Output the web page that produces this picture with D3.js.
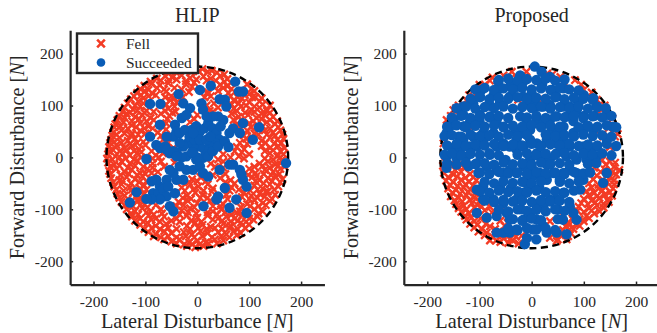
<!DOCTYPE html>
<html>
<head>
<meta charset="utf-8">
<script src="https://cdn.jsdelivr.net/npm/d3@7"></script>
<style>
  body { margin: 0; background: #fff; }
  svg text, svg tspan { font-family: "Liberation Serif", "Times New Roman", serif; fill: #262626; }
</style>
</head>
<body>
<svg id="chart" width="657" height="333" font-family="Liberation Serif"></svg>
<script>
// tick values and boundary radius
const tickVals = [-200, -100, 0, 100, 200];
const boundary = [175];
const titles = ["HLIP", "Proposed"];
const legendLabels = ["Fell", "Succeeded"];

// HLIP: pushes that fell [lateral, forward]
const hlipFell = [
  [-35,168],[-20,171],[-5,172],[10,170],[28,167],
  [-55,162],[-42,165],[-12,164],[3,166],[20,165],[38,163],[52,160],
  [-78,152],[-62,157],[-48,154],[-30,158],[-14,153],[12,156],[26,152],[44,157],[58,151],
  [-90,146],[-70,148],[-55,149],[-40,150],[-22,147],[-2,150],[18,148],[36,148],[52,146],[64,144],
  [-102,138],[-88,142],[-72,139],[-56,143],[-22,141],[-6,144],[44,140],[58,137],[96,141],[104,132],
  [-110,132],[-94,130],[-78,134],[-64,131],[-44,134],[-30,131],[-10,136],[20,126],[50,134],[66,132],[110,128],
  [-116,124],[-101,128],[-86,123],[-60,127],[-50,118],[-16,126],[14,116],[40,128],[60,124],[100,122],[112,116],
  [-122,118],[-108,120],[-94,118],[-80,120],[-62,116],[-44,114],[-28,116],[20,122],[64,118],[78,116],[92,120],[106,116],[124,114],
  [-128,112],[-114,108],[-104,114],[-52,110],[-40,106],[26,118],[32,104],[70,110],[86,114],[100,106],[120,108],
  [-134,104],[-120,100],[-104,104],[-60,102],[-44,98],[18,100],[66,102],[80,104],[94,100],[110,98],[126,102],[140,100],
  [-140,96],[-124,92],[-110,98],[-98,90],[-56,94],[-42,88],[24,90],[40,96],[70,94],[84,98],[104,92],[120,96],[134,90],
  [-144,88],[-130,86],[-116,90],[-102,86],[-84,88],[-62,90],[-48,86],[30,88],[76,90],[92,86],[110,88],[124,84],[140,86],
  [-150,80],[-136,84],[-120,78],[-106,82],[-90,76],[-70,84],[-54,80],[0,82],[66,84],[80,78],[98,82],[114,76],[130,82],[146,78],
  [-154,72],[-140,76],[-126,70],[-112,74],[-98,70],[-84,72],[-58,74],[-6,74],[70,72],[84,72],[108,70],[124,74],[140,72],[154,70],
  [-158,64],[-142,68],[-126,62],[-110,66],[-94,60],[-60,66],[-14,68],[76,62],[100,66],[116,62],[134,68],[150,64],
  [-160,58],[-148,60],[-134,56],[-118,58],[-102,56],[-86,56],[-66,58],[82,58],[104,58],[126,60],[140,56],[156,58],
  [-162,48],[-146,52],[-126,46],[-110,52],[-76,48],[-60,54],[96,52],[110,46],[130,52],[146,48],[160,52],
  [-164,42],[-156,44],[-140,46],[-128,42],[-114,44],[-100,46],[-70,42],[90,42],[104,40],[118,44],[134,44],[150,42],[164,44],
  [-166,34],[-150,38],[-134,32],[-120,36],[-104,30],[-66,34],[94,36],[124,32],[140,38],[154,34],[166,36],
  [-168,28],[-160,30],[-146,28],[-130,26],[-116,28],[-100,24],[-56,28],[82,28],[96,26],[132,28],[148,26],[162,28],
  [-170,20],[-156,24],[-140,18],[-126,22],[-112,16],[-46,18],[76,20],[90,16],[124,22],[140,18],[156,22],[168,18],
  [-170,12],[-162,14],[-150,12],[-136,14],[-122,12],[-108,10],[-88,12],[-72,12],[72,12],[86,10],[130,12],[146,14],[160,12],
  [-172,6],[-158,2],[-144,8],[-130,4],[-116,8],[-80,4],[-66,8],[50,6],[80,2],[100,6],[140,8],[154,2],[166,6],
  [-174,-2],[-164,-4],[-150,0],[-138,-2],[-122,-4],[-108,0],[-86,-2],[-74,0],[40,-4],[64,0],[90,-2],[130,-2],[146,-4],[160,0],
  [-172,-10],[-160,-14],[-146,-8],[-130,-12],[-116,-6],[-86,-12],[-70,-8],[-44,-10],[26,-12],[50,-8],[120,-12],[136,-8],[150,-14],[162,-6],
  [-168,-18],[-150,-16],[-134,-20],[-120,-16],[-104,-18],[-86,-20],[-64,-18],[34,-18],[50,-20],[110,-18],[126,-16],[140,-20],[156,-16],[168,-18],
  [-170,-26],[-156,-22],[-140,-28],[-126,-24],[-110,-30],[-96,-22],[-76,-28],[40,-26],[100,-22],[112,-30],[130,-24],[146,-28],[160,-22],
  [-168,-32],[-148,-34],[-132,-32],[-116,-34],[-100,-32],[-88,-30],[30,-34],[54,-32],[98,-34],[114,-36],[128,-32],[142,-34],[158,-32],
  [-166,-40],[-150,-44],[-136,-38],[-120,-42],[-106,-36],[-10,-42],[6,-38],[44,-40],[64,-44],[106,-38],[120,-44],[136,-40],[150,-36],[164,-42],
  [-162,-48],[-144,-46],[-128,-50],[-112,-48],[-98,-46],[-16,-48],[0,-46],[16,-46],[54,-48],[72,-50],[112,-46],[128,-50],[144,-46],[160,-48],
  [-160,-56],[-146,-52],[-130,-58],[-102,-54],[-30,-58],[-14,-52],[2,-56],[20,-52],[66,-58],[110,-54],[126,-60],[140,-52],[156,-56],
  [-156,-62],[-142,-64],[-126,-62],[-110,-60],[-98,-62],[-24,-64],[-8,-62],[12,-64],[30,-60],[62,-64],[80,-62],[102,-64],[116,-62],[132,-66],[148,-62],
  [-154,-70],[-140,-74],[-124,-68],[-104,-72],[-20,-74],[-4,-68],[10,-72],[28,-66],[56,-72],[90,-68],[104,-74],[120,-70],[136,-66],[150,-72],
  [-150,-78],[-134,-80],[-118,-76],[-108,-80],[-28,-78],[-12,-80],[6,-78],[20,-78],[58,-80],[86,-76],[100,-80],[116,-78],[130,-76],[144,-80],
  [-146,-86],[-116,-82],[-102,-90],[-36,-86],[-20,-82],[0,-88],[24,-84],[50,-90],[80,-84],[96,-90],[110,-82],[126,-88],[140,-84],
  [-140,-92],[-124,-94],[-110,-92],[-96,-96],[-80,-92],[-40,-94],[-26,-92],[-6,-96],[30,-94],[44,-94],[84,-96],[102,-94],[118,-94],[132,-92],
  [-136,-100],[-120,-104],[-106,-98],[-90,-104],[-70,-100],[-30,-102],[-14,-98],[30,-104],[46,-100],[76,-106],[110,-100],[126,-104],
  [-128,-108],[-114,-110],[-98,-106],[-84,-110],[-68,-108],[-34,-110],[-18,-106],[-2,-108],[20,-106],[38,-110],[54,-106],[66,-110],[82,-104],[118,-108],
  [-126,-114],[-110,-118],[-94,-112],[-80,-118],[-64,-114],[-40,-118],[-20,-112],[0,-116],[20,-112],[40,-118],[56,-114],[72,-118],[86,-112],[100,-118],[116,-114],
  [-120,-122],[-104,-124],[-88,-120],[-72,-124],[-50,-122],[-34,-124],[-12,-122],[8,-124],[30,-120],[48,-122],[64,-124],[78,-122],[94,-124],[108,-120],
  [-110,-130],[-96,-126],[-80,-132],[-60,-128],[-20,-132],[-4,-126],[10,-130],[26,-134],[50,-128],[64,-132],[84,-126],[100,-130],
  [-102,-138],[-88,-136],[-72,-138],[-56,-136],[-40,-138],[-14,-138],[2,-136],[18,-138],[34,-136],[48,-138],[62,-136],[78,-138],[92,-136],
  [-94,-144],[-80,-148],[-64,-142],[-50,-146],[-26,-144],[-10,-148],[6,-142],[20,-146],[40,-144],[56,-148],[70,-142],[84,-146],
  [-84,-152],[-70,-154],[-56,-152],[-40,-154],[-22,-152],[-6,-154],[10,-152],[28,-154],[46,-152],[62,-154],[76,-150],
  [-64,-158],[-50,-162],[-34,-158],[-16,-164],[0,-160],[16,-164],[34,-158],[50,-160],
  [-40,-166],[-26,-168],[-10,-167],[4,-168],[22,-166],[38,-166],
  [-20,-171],[-4,-173],[12,-171]
];

// HLIP: pushes that succeeded
const hlipSucc = [
  [73,146],[80,127],[88,127],[26,138],[5,130],[-36,122],[-91,103],[-71,103],[-27,104],[-14,95],
  [8,104],[11,92],[43,112],[53,111],[56,98],[-30,76],[-21,82],[-72,63],[-43,63],[-40,50],
  [-46,40],[-59,40],[-91,40],[-79,24],[-72,18],[-62,21],[-53,8],[-98,-3],[-34,47],[-24,53],
  [-11,53],[-2,60],[5,50],[14,56],[21,66],[30,56],[37,47],[43,34],[34,28],[24,21],
  [14,15],[5,21],[-8,21],[-18,28],[-27,21],[-34,28],[-21,2],[-8,8],[-2,-4],[11,-1],
  [21,2],[30,12],[40,21],[53,31],[62,47],[69,56],[82,47],[88,66],[107,34],[119,58],
  [50,72],[40,79],[30,79],[18,79],[43,-24],[62,-14],[69,-14],[82,-24],[88,-43],[95,-56],
  [85,-33],[53,-59],[40,-75],[37,-81],[75,-81],[62,-97],[95,-107],[-34,-17],[-21,-24],[-8,-24],
  [5,-17],[11,-30],[21,-37],[-27,-43],[-40,-43],[-46,-30],[-53,-24],[-59,-43],[-72,-56],[-79,-43],
  [-88,-46],[-85,-69],[-75,-69],[-66,-62],[-56,-56],[-59,-75],[-72,-81],[-88,-81],[-98,-80],[-43,-69],
  [-53,-94],[-46,-104],[-117,-67],[-130,-87],[12,-94],[171,-11],
  [-15,40],[-5,34],[5,34],[18,34],[-8,47],[0,0],[-10,10],[25,40],[45,60],[60,20],[-40,10],[-30,0],
  [-59,15],[-46,12],[-40,2]
];

// Proposed: pushes that fell
const propFell = [
  [-75,154],[-54,158],[-38,165],[-29,152],[16,149],[61,146],[83,149],[13,111],[-26,111],[-86,98],
  [-150,91],[-163,72],[-118,53],[-169,27],[-166,-8],[-137,-11],[125,111],[134,91],[147,56],[137,40],
  [125,50],[-140,100],[-120,120],[-100,140],[40,160],[100,130],[160,40],[150,20],
  [-155,80],[-145,95],[-125,110],[-105,125],[-90,140],[-80,148],[-10,165],[30,162],[55,155],[95,140],
  [115,125],[140,100],[155,75],[165,45],
  [-170,-16],[-155,-13],[-140,-18],
  [-162,-22],[-147,-24],[-130,-20],
  [-168,-30],[-150,-33],[-135,-28],[-118,-32],
  [-160,-38],[-143,-37],[-127,-39],[-112,-38],
  [-164,-45],[-150,-48],[-135,-43],[-120,-47],[-106,-44],
  [-157,-53],[-142,-55],[-127,-52],[-112,-54],
  [-160,-60],[-145,-63],[-130,-58],[-118,-62],
  [-152,-68],[-137,-70],[-122,-67],[-108,-69],
  [-155,-75],[-140,-78],[-125,-73],[-110,-77],[-80,-72],
  [-148,-83],[-133,-85],[-118,-82],[-100,-84],[-86,-86],
  [-145,-90],[-130,-93],[-115,-88],[-104,-92],[-60,-92],
  [-140,-98],[-125,-100],[-110,-97],[-96,-95],[-80,-95],
  [-135,-105],[-120,-108],[-90,-102],[-76,-106],
  [-128,-113],[-115,-116],
  [-125,-120],[-110,-123],[-98,-118],[-60,-122],[-46,-126],
  [-118,-128],[-104,-130],[-88,-128],[-52,-132],
  [-110,-135],[-95,-138],[-80,-133],[-70,-138],
  [-102,-143],[-86,-145],[-64,-143],
  [-90,-150],[-75,-153],[-55,-150],[-30,-153],
  [-80,-160],[-68,-160],[-36,-160],
  [-60,-163],[-45,-165],[-25,-166],
  [135,-5],[150,-8],[142,-14],[160,-10],
  [120,-20],[140,-23],[158,-18],
  [132,-28],[155,-28],[168,-24],
  [125,-35],[150,-38],[162,-33],
  [118,-42],[136,-43],[158,-44],
  [110,-50],[128,-53],[145,-48],[158,-52],
  [115,-58],[128,-60],[142,-57],[156,-60],
  [105,-65],[120,-68],[135,-63],[150,-67],
  [110,-73],[125,-75],[140,-72],[154,-74],
  [100,-80],[115,-83],[130,-78],[145,-82],
  [95,-88],[108,-90],[122,-87],[138,-90],[148,-86],
  [90,-95],[110,-98],[125,-93],[138,-97],
  [88,-103],[100,-105],[115,-102],[130,-104],
  [80,-110],[105,-113],[120,-108],
  [78,-118],[92,-119],[110,-117],
  [70,-125],[85,-128],[100,-123],
  [65,-133],[72,-130],[92,-132],
  [60,-140],[80,-138],
  [55,-150],[75,-146],
  [35,-155],[50,-158],[70,-152],
  [35,-123],[73,-139],[67,-158],[48,-161],[-42,-158],[-54,-155],[-19,-151],[61,-113]
];

// Proposed: pushes that succeeded
const propSucc = [
  [6,175],[19,165],[35,155],[-22,158],[-16,146],[-29,136],[-64,146],[-61,133],[61,133],[48,117],
  [-96,130],[-99,117],[-112,104],[-73,120],[-61,104],[-42,117],[-16,117],[0,123],[-3,104],[10,98],
  [22,98],[35,101],[61,98],[73,98],[89,107],[86,91],[118,114],[125,98],[144,82],[156,59],[144,34],
  [-131,98],[-131,82],[-150,72],[-157,59],[-118,69],[-99,82],[-80,79],[-67,72],[-54,59],[-73,47],
  [-86,40],[-93,47],[-112,40],[-118,21],[-105,21],[-93,27],[-67,21],[-54,27],[-42,21],[-29,34],
  [-16,47],[-3,53],[-10,72],[-22,79],[10,72],[22,66],[35,72],[48,79],[61,59],[67,79],
  [54,47],[80,47],[99,47],[105,59],[118,53],[99,21],[112,15],[118,2],[105,-4],[125,21],
  [-163,2],[-163,-20],[-144,-1],[-125,2],[-121,-17],[-105,-11],[-102,-30],[-86,-17],[-67,-24],[-54,-30],
  [-42,-24],[-29,-30],[-16,-17],[-3,-4],[10,8],[22,2],[35,-4],[48,8],[61,15],[73,21],
  [67,2],[86,-4],[-29,15],[-16,21],[10,27],[29,34],[48,27],[61,34],[-3,34],
  [-93,-56],[-105,-62],[-93,-81],[-73,-81],[-54,-88],[-48,-107],[-42,-120],[-29,-81],[-16,-68],[-3,-56],
  [3,-36],[16,-30],[29,-43],[42,-30],[54,-43],[61,-30],[73,-24],[86,-30],[99,-43],[93,-62],
  [61,-68],[48,-81],[35,-81],[22,-94],[10,-94],[-3,-107],[10,-120],[22,-132],[3,-139],[-16,-120],
  [-29,-139],[-42,-145],[-54,-145],[-67,-145],[-13,-167],[29,-145],[48,-145],[67,-148],[86,-120],[80,-107],
  [73,-94],[-105,-107],[-86,-116],[-67,-113],
  [125,2],[144,-30],[137,-49],[-163,47],[-150,18],[-137,15],[-131,34],
  [-10,-50],[0,-20],[15,-60],[30,-15],[-50,-5],[-80,5],[-30,50],[40,50],[80,70],[100,80],
  [120,80],[-130,60],[-140,40],[50,-100],[-20,-100],[-40,-60],[-60,-60],[20,140],[-40,140],[40,130],
  [-80,100],[-100,70],[100,120],[60,-120],
  [-63,149],[-45,152],[-27,148],[-9,151],[9,149],[27,152],[45,148],[63,150],
  [-108,131],[-90,134],[-72,130],[-54,133],[-36,131],[-18,134],[0,131],[18,133],[36,130],[54,134],[72,131],[90,129],
  [-117,113],[-99,116],[-81,112],[-63,115],[-45,113],[-27,116],[-9,112],[9,115],[27,113],[45,116],[63,112],[81,115],[99,113],[117,111],
  [-144,95],[-126,98],[-108,94],[-90,97],[-72,95],[-54,98],[-36,94],[-18,97],[0,95],[18,98],[36,94],[54,97],[72,95],[90,98],[108,94],[126,97],[142,95],
  [-153,77],[-135,80],[-117,76],[-99,79],[-81,77],[-63,80],[-45,76],[-9,77],[9,80],[27,76],[45,79],[63,77],[81,80],[99,76],[117,79],[135,77],[153,80],
  [-162,59],[-144,62],[-126,58],[-108,61],[-90,59],[-72,62],[-54,58],[-36,61],[-18,59],[0,62],[18,58],[36,61],[54,59],[90,58],[108,61],[126,59],[144,62],[162,58],
  [-167,41],[-153,43],[-135,40],[-117,44],[-99,41],[-81,43],[-63,40],[-45,44],[-27,41],[-9,43],[27,44],[45,41],[63,43],[81,40],[99,44],[117,41],[135,43],[153,40],
  [-162,23],[-144,26],[-126,22],[-108,25],[-90,23],[-72,26],[-54,22],[-36,25],[-18,23],[0,26],[18,22],[36,25],[54,23],[72,26],[90,22],[108,25],[126,23],[144,26],[162,22],
  [-167,5],[-153,8],[-135,4],[-117,7],[-99,5],[-81,8],[-63,4],[-27,5],[-9,8],[9,4],[27,7],[45,5],[63,8],[81,4],[99,7],[117,5],[135,8],[153,4],
  [-162,-11],[-144,-14],[-126,-10],[-108,-13],[-90,-11],[-72,-14],[-54,-10],[-36,-13],[-18,-11],[0,-14],[18,-10],[36,-13],[54,-11],[72,-14],[108,-13],[124,-11],
  [-99,-29],[-81,-32],[-63,-28],[-45,-31],[-27,-29],[-9,-32],[9,-28],[27,-31],[45,-29],[63,-32],[81,-28],[99,-31],[112,-29],
  [-90,-47],[-72,-50],[-54,-46],[-36,-49],[-18,-47],[0,-50],[18,-46],[54,-47],[72,-50],[90,-46],
  [-99,-65],[-81,-68],[-63,-64],[-45,-67],[-27,-65],[-9,-68],[9,-64],[27,-67],[45,-65],[63,-68],[81,-64],
  [-90,-83],[-72,-86],[-54,-82],[-36,-85],[-18,-83],[0,-86],[18,-82],[36,-85],[54,-83],[72,-86],
  [-63,-101],[-45,-104],[-27,-100],[-9,-103],[9,-101],[27,-104],[45,-100],[63,-103],
  [-36,-119],[-18,-122],[0,-118],[18,-121],[50,-119],
  [-45,-137],[-27,-140],[-9,-136],[9,-139],[27,-137],[45,-140],
  [-9,-155],[9,-158]
];

const red = "#f33b24";
const blue = "#0a5cb6";
const axisColor = "#262626";
const lim = 245;

const svg = d3.select("#chart");

const panels = [
  { title: titles[0], fell: hlipFell, succ: hlipSucc, cx: 197.3, k: 0.519, ylabX: 23.5, legend: true },
  { title: titles[1], fell: propFell, succ: propSucc, cx: 531.65, k: 0.5218, ylabX: 358, legend: false }
];
const cy = 157.4, ky = 0.519;
const serif = "'Liberation Serif', 'Times New Roman', serif";

const cross = d3.symbol(d3.symbolTimes).size(36);

panels.forEach(p => {
  const x = d3.scaleLinear().domain([-lim, lim]).range([p.cx - lim * p.k, p.cx + lim * p.k]);
  const y = d3.scaleLinear().domain([-lim, lim]).range([cy + lim * ky, cy - lim * ky]);
  const g = svg.append("g");

  // fell markers
  g.append("g").selectAll("path")
    .data(p.fell)
    .enter()
    .append("path")
    .attr("d", cross)
    .attr("transform", d => "translate(" + x(d[0]) + "," + y(d[1]) + ")")
    .attr("fill", "none")
    .attr("stroke", red)
    .attr("stroke-width", 2.3);

  // dashed boundary
  g.append("g").selectAll("ellipse")
    .data(boundary)
    .enter()
    .append("ellipse")
    .attr("cx", x(0))
    .attr("cy", y(0))
    .attr("rx", d => x(d) - x(0))
    .attr("ry", d => y(0) - y(d))
    .attr("fill", "none")
    .attr("stroke", "#000")
    .attr("stroke-width", 2.4)
    .attr("stroke-dasharray", "7,4.5");

  // succeeded markers
  g.append("g").selectAll("circle")
    .data(p.succ)
    .enter()
    .append("circle")
    .attr("cx", d => x(d[0]))
    .attr("cy", d => y(d[1]))
    .attr("r", 5.2)
    .attr("fill", blue);

  // axes
  const xAxis = g.append("g")
    .attr("transform", "translate(0," + y(-lim) + ")")
    .call(d3.axisBottom(x).tickValues(tickVals).tickFormat(d => String(d))
      .tickSizeInner(-3).tickSizeOuter(0).tickPadding(11));
  const yAxis = g.append("g")
    .attr("transform", "translate(" + x(-lim) + ",0)")
    .call(d3.axisLeft(y).tickValues(tickVals).tickFormat(d => String(d))
      .tickSizeInner(-3).tickSizeOuter(0).tickPadding(7));
  [xAxis, yAxis].forEach(a => {
    a.attr("font-family", serif).attr("font-size", null);
    a.select(".domain").attr("stroke", axisColor).attr("stroke-width", 2.2);
    a.selectAll(".tick line").attr("stroke", axisColor).attr("stroke-width", 1.5);
    a.selectAll(".tick text")
      .style("font-family", serif)
      .style("font-size", "15.5px")
      .attr("fill", axisColor);
  });

  // title
  g.append("text")
    .attr("x", x(0))
    .attr("y", 21.5)
    .attr("text-anchor", "middle")
    .style("font-family", serif)
    .style("font-size", "20px")
    .text(p.title);

  // axis labels
  const xl = g.append("text")
    .attr("x", x(0))
    .attr("y", 328)
    .attr("text-anchor", "middle")
    .style("font-family", serif)
    .style("font-size", "20.3px");
  xl.append("tspan").text("Lateral Disturbance [");
  xl.append("tspan").style("font-style", "italic").text("N");
  xl.append("tspan").text("]");

  const yl = g.append("text")
    .attr("transform", "translate(" + p.ylabX + "," + y(0) + ") rotate(-90)")
    .attr("text-anchor", "middle")
    .style("font-family", serif)
    .style("font-size", "20.3px");
  yl.append("tspan").text("Forward Disturbance [");
  yl.append("tspan").style("font-style", "italic").text("N");
  yl.append("tspan").text("]");

  if (p.legend) {
    const lg = g.append("g");
    lg.append("rect")
      .attr("x", 77).attr("y", 33.5)
      .attr("width", 121).attr("height", 39.5)
      .attr("fill", "#fff")
      .attr("stroke", axisColor)
      .attr("stroke-width", 2.4);
    lg.append("path")
      .attr("d", d3.symbol(d3.symbolTimes).size(40))
      .attr("transform", "translate(101,43.5)")
      .attr("fill", "none")
      .attr("stroke", red)
      .attr("stroke-width", 2.6);
    lg.append("circle")
      .attr("cx", 101).attr("cy", 62.5).attr("r", 4.3)
      .attr("fill", blue);
    lg.selectAll("text.leg")
      .data(legendLabels)
      .enter()
      .append("text")
      .attr("class", "leg")
      .attr("x", 126)
      .attr("y", (d, i) => 48.5 + i * 19)
      .style("font-family", serif)
      .style("font-size", "15.4px")
      .text(d => d);
  }
});
</script>
</body>
</html>
